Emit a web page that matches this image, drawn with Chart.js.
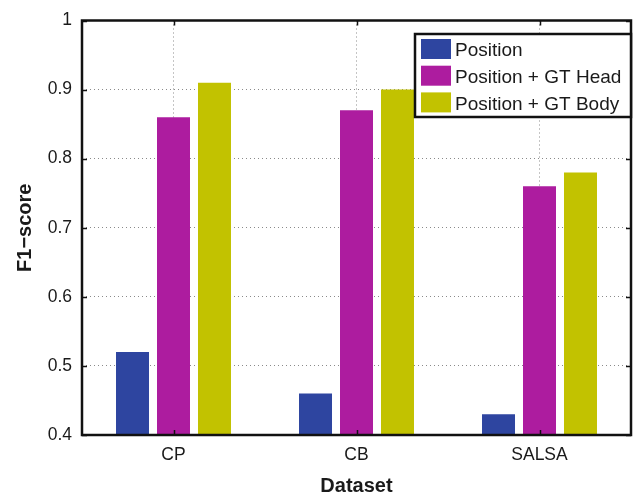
<!DOCTYPE html>
<html>
<head>
<meta charset="utf-8">
<script src="https://cdn.jsdelivr.net/npm/chart.js@4/dist/chart.umd.min.js"></script>
<style>
html,body{margin:0;padding:0;background:#fff;}
#wrap{width:638px;height:495px;position:relative;}
</style>
</head>
<body>
<div id="wrap"><canvas id="c" width="638" height="495"></canvas></div>
<script>
const categories = ["CP", "CB", "SALSA"];
const seriesNames = ["Position", "Position + GT Head", "Position + GT Body"];
const positionVals = [0.52, 0.46, 0.43];
const gtHeadVals = [0.86, 0.87, 0.76];
const gtBodyVals = [0.91, 0.90, 0.78];
const yTicks = [0.4, 0.5, 0.6, 0.7, 0.8, 0.9, 1];
const colors = ["#2E45A0", "#AD1C9F", "#C2C200"];

const FONT = "'Liberation Sans', Arial, Helvetica, sans-serif";

const boxPlugin = {
  id: 'boxPlugin',
  afterDatasetsDraw(chart) {
    const ctx = chart.ctx;
    const a = chart.chartArea;
    const xs = chart.scales.x, ys = chart.scales.y;
    ctx.save();
    ctx.strokeStyle = '#111';
    ctx.lineWidth = 1.5;
    ctx.beginPath();
    yTicks.forEach(v => {
      const y = Math.round(ys.getPixelForValue(v)) + 0.5;
      ctx.moveTo(a.left, y); ctx.lineTo(a.left + 5, y);
      ctx.moveTo(a.right, y); ctx.lineTo(a.right - 5, y);
    });
    categories.forEach((c, i) => {
      const x = Math.round(xs.getPixelForValue(i)) + 0.5;
      ctx.moveTo(x, a.top); ctx.lineTo(x, a.top + 5);
      ctx.moveTo(x, a.bottom); ctx.lineTo(x, a.bottom - 5);
    });
    ctx.stroke();
    ctx.lineWidth = 2.5;
    ctx.strokeRect(a.left, a.top, a.right - a.left, a.bottom - a.top);

    // legend
    const lx = 415, ly = 34, lw = 216, lh = 83;
    ctx.fillStyle = '#fff';
    ctx.fillRect(lx, ly, lw, lh);
    ctx.lineWidth = 2.5;
    ctx.strokeStyle = '#111';
    ctx.strokeRect(lx, ly, lw, lh);
    ctx.font = "19px " + FONT;
    ctx.textBaseline = 'middle';
    ctx.textAlign = 'left';
    chart.data.datasets.forEach((ds, i) => {
      const cy = ly + 15 + i * 26.7;
      ctx.fillStyle = ds.backgroundColor;
      ctx.fillRect(421, cy - 10, 30, 20);
      ctx.fillStyle = '#1a1a1a';
      ctx.fillText(ds.label, 455, cy + 2);
    });
    ctx.restore();
  }
};

new Chart(document.getElementById('c'), {
  type: 'bar',
  data: {
    labels: categories,
    datasets: [
      { label: seriesNames[0], data: positionVals, backgroundColor: colors[0] },
      { label: seriesNames[1], data: gtHeadVals, backgroundColor: colors[1] },
      { label: seriesNames[2], data: gtBodyVals, backgroundColor: colors[2] }
    ]
  },
  options: {
    responsive: false,
    animation: false,
    devicePixelRatio: 1,
    layout: { padding: { top: 16, right: 7, left: 0, bottom: 0 } },
    datasets: { bar: { categoryPercentage: 0.672, barPercentage: 0.805 } },
    plugins: { legend: { display: false }, tooltip: { enabled: false } },
    scales: {
      x: {
        grid: { offset: false, drawTicks: false, color: '#8a8a8a', lineWidth: 1 },
        border: { display: false, dash: [1, 3] },
        ticks: { color: '#1a1a1a', font: { family: FONT, size: 17.5 }, padding: 10 },
        title: { display: true, text: 'Dataset', color: '#1a1a1a', font: { family: FONT, size: 20, weight: 'bold' }, padding: { top: 8, bottom: -3 } },
        afterFit(s) { s.height = 60; }
      },
      y: {
        min: 0.4, max: 1,
        afterBuildTicks(s) { s.ticks = yTicks.map(v => ({ value: v })); },
        grid: { drawTicks: false, color: '#8a8a8a', lineWidth: 1 },
        border: { display: false, dash: [1, 3] },
        ticks: { color: '#1a1a1a', font: { family: FONT, size: 17.5 }, padding: 10,
          callback: v => String(v) },
        title: { display: true, text: 'F1\u2212score', color: '#1a1a1a', font: { family: FONT, size: 20, weight: 'bold' }, padding: { top: 13, bottom: 0 } },
        afterFit(s) { s.width = 82; }
      }
    }
  },
  plugins: [boxPlugin]
});
</script>
</body>
</html>
